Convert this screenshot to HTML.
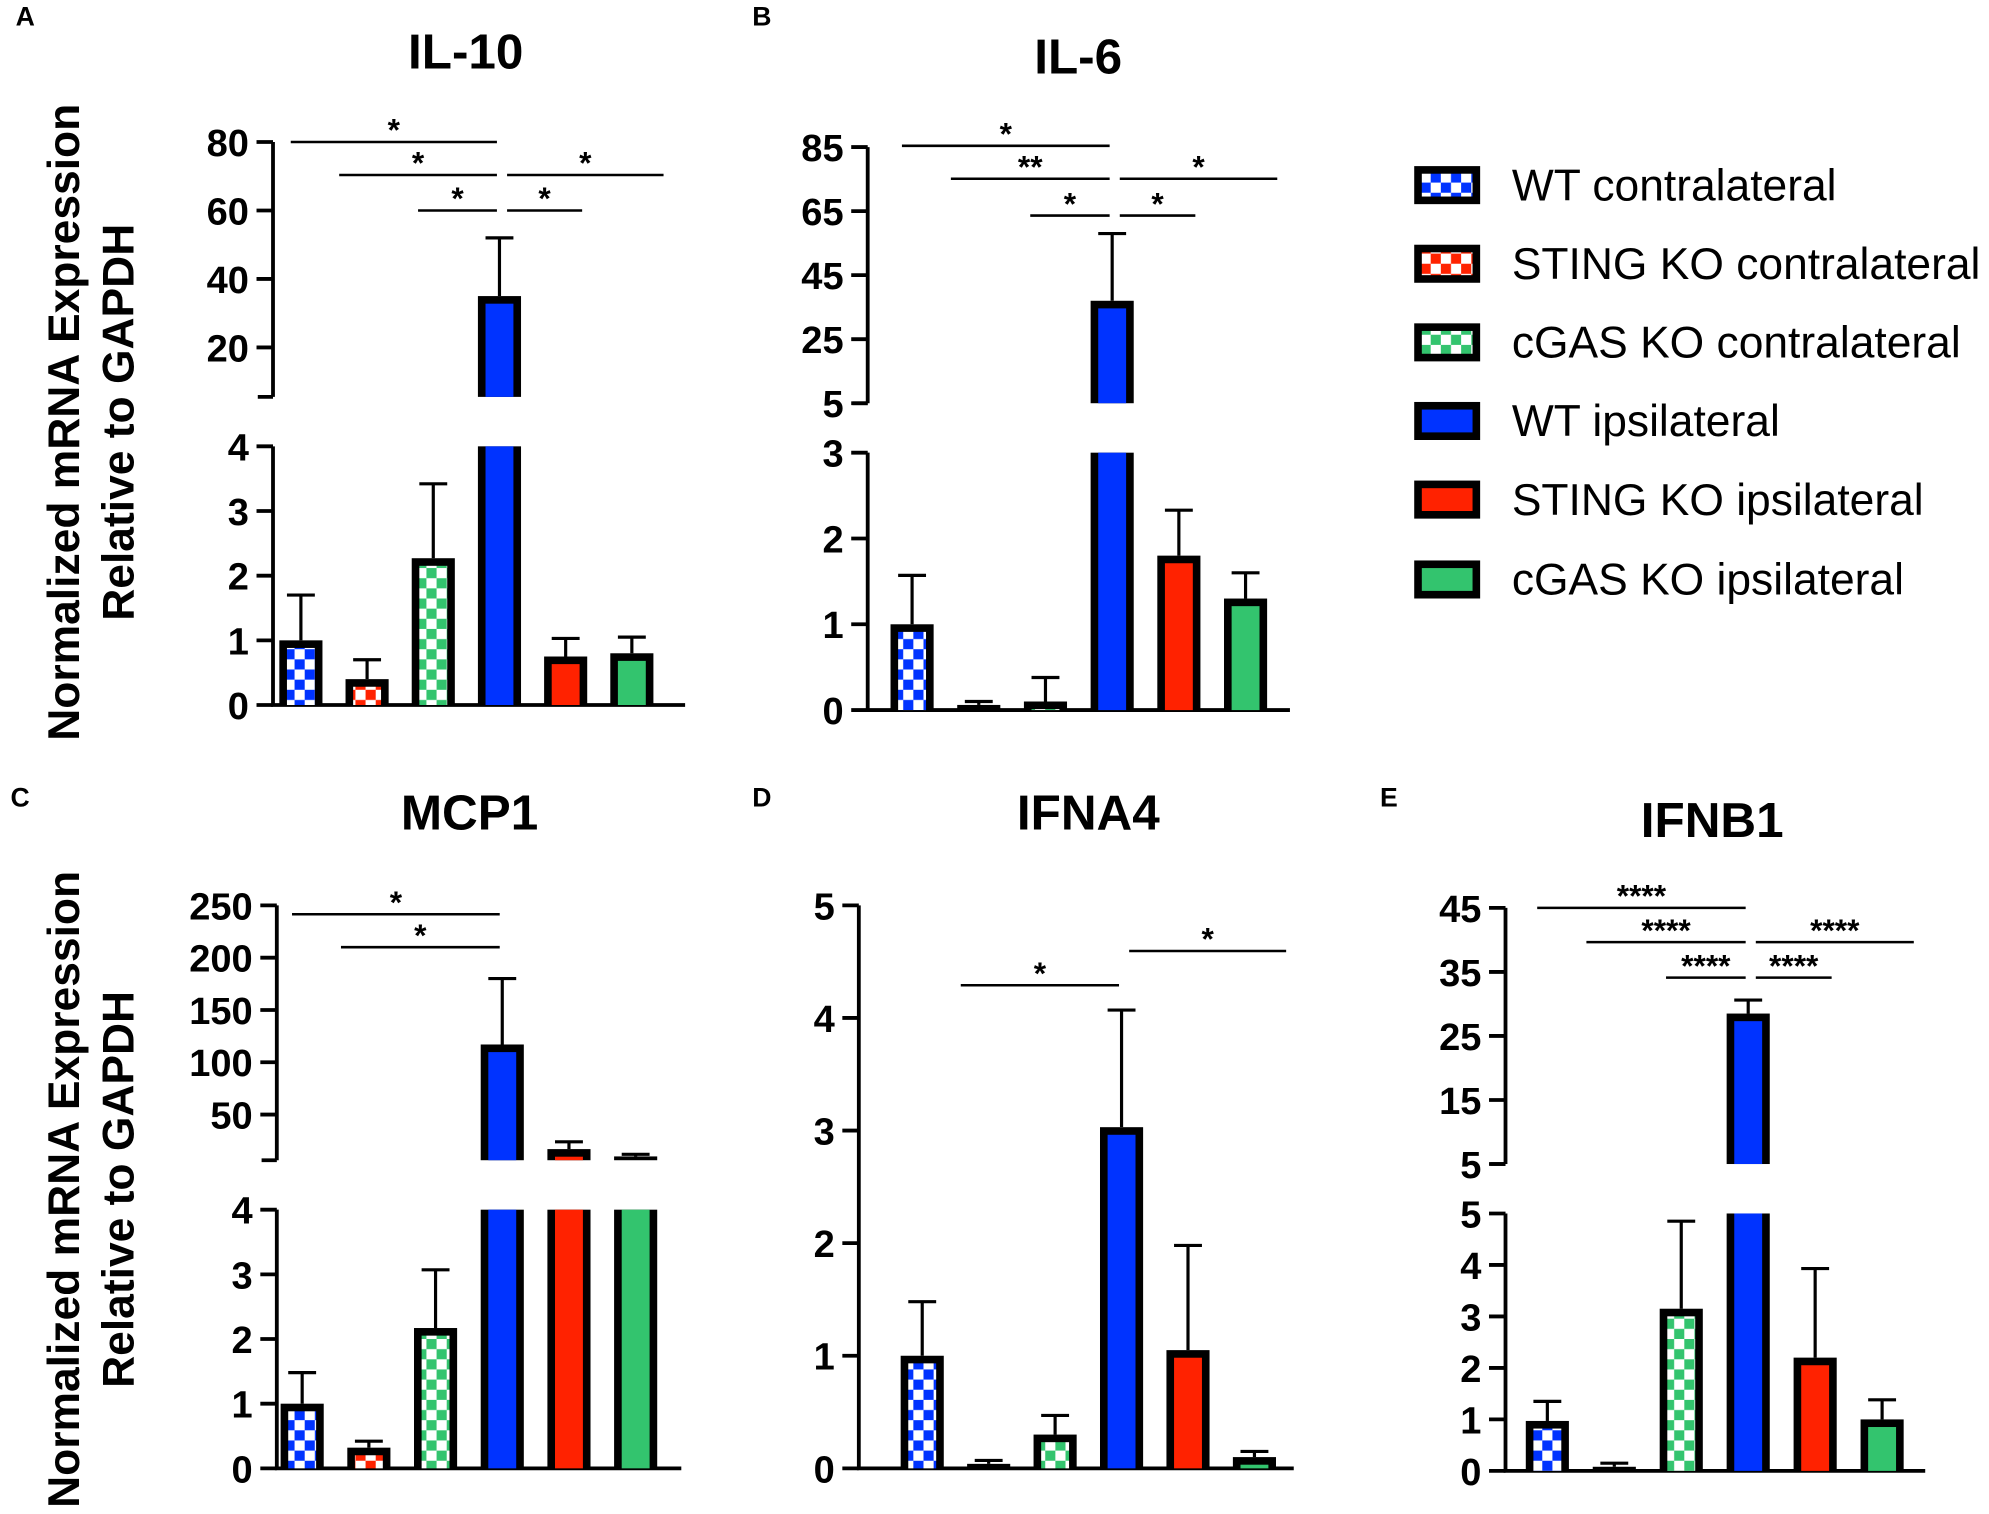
<!DOCTYPE html>
<html><head><meta charset="utf-8"><style>
html,body{margin:0;padding:0;background:#fff;}
svg{display:block;font-family:"Liberation Sans",Arial,sans-serif;}
</style></head><body>
<svg id="fig" width="1989" height="1514" viewBox="0 0 1568 1194" xmlns="http://www.w3.org/2000/svg">
<defs>
<pattern id="chkB" width="16" height="16" patternUnits="userSpaceOnUse"><rect width="16" height="16" fill="#fff"/><rect width="8" height="8" fill="#0033ff"/><rect x="8" y="8" width="8" height="8" fill="#0033ff"/></pattern>
<pattern id="chkR" width="16" height="16" patternUnits="userSpaceOnUse"><rect width="16" height="16" fill="#fff"/><rect width="8" height="8" fill="#ff2200"/><rect x="8" y="8" width="8" height="8" fill="#ff2200"/></pattern>
<pattern id="chkG" width="16" height="16" patternUnits="userSpaceOnUse"><rect width="16" height="16" fill="#fff"/><rect width="8" height="8" fill="#33c46e"/><rect x="8" y="8" width="8" height="8" fill="#33c46e"/></pattern>
</defs>
<g id="root"></g>
</svg>
<script>
const groups = ["WT contralateral","STING KO contralateral","cGAS KO contralateral","WT ipsilateral","STING KO ipsilateral","cGAS KO ipsilateral"];
const fills = ["url(#chkB)","url(#chkR)","url(#chkG)","#0033ff","#ff2200","#33c46e"];
const il10Values = [1.0, 0.4, 2.27, 35, 0.75, 0.8];
const il10Errors = [1.7, 0.7, 3.42, 52, 1.03, 1.05];
const il6Values = [1.0, 0.06, 0.1, 37, 1.8, 1.3];
const il6Errors = [1.57, 0.1, 0.38, 58, 2.33, 1.6];
const mcp1Values = [1.0, 0.32, 2.17, 117, 17, 10];
const mcp1Errors = [1.48, 0.42, 3.07, 180, 24, 12];
const ifna4Values = [1.0, 0.04, 0.3, 3.03, 1.05, 0.1];
const ifna4Errors = [1.48, 0.07, 0.47, 4.07, 1.98, 0.15];
const ifnb1Values = [0.97, 0.08, 3.15, 28.5, 2.2, 1.0];
const ifnb1Errors = [1.35, 0.15, 4.85, 30.6, 3.93, 1.38];
const il10LowTicks = [0,1,2,3,4], il10HighTicks = [20,40,60,80];
const il6LowTicks = [0,1,2,3], il6HighTicks = [5,25,45,65,85];
const mcp1LowTicks = [0,1,2,3,4], mcp1HighTicks = [50,100,150,200,250];
const ifna4Ticks = [0,1,2,3,4,5];
const ifnb1LowTicks = [0,1,2,3,4,5], ifnb1HighTicks = [5,15,25,35,45];
const il10Sig = [[0,3,"*"],[1,3,"*"],[3,5,"*"],[2,3,"*"],[3,4,"*"]];
const il6Sig = [[0,3,"*"],[1,3,"**"],[3,5,"*"],[2,3,"*"],[3,4,"*"]];
const mcp1Sig = [[0,3,"*"],[1,3,"*"]];
const ifna4Sig = [[1,3,"*"],[3,5,"*"]];
const ifnb1Sig = [[0,3,"****"],[1,3,"****"],[3,5,"****"],[2,3,"****"],[3,4,"****"]];
// bracket left-end pixel offsets by start group (style only)
const sigLeftOff = {0:-8,1:-22,2:-12};
const sigRightOff = {5:25,4:13};

const NS="http://www.w3.org/2000/svg";
const root=document.getElementById('root');
function el(tag,attrs,parent,text){const e=document.createElementNS(NS,tag);for(const k in attrs)e.setAttribute(k,attrs[k]);if(text!==undefined)e.textContent=text;(parent||root).appendChild(e);return e;}

function panel(p){
  const g=el('g',{});
  
  
  const t=el('text',{x:p.titleX,y:p.titleY,'font-size':39,'font-weight':'bold','text-anchor':'middle'},g,p.title);
  
  
  const L=el('text',{x:p.letter[0],y:p.letter[1],'font-size':21,'font-weight':'bold'},g,p.letterText);
  
  
  const lowY=v=>p.low.y0-(v-p.low.v0)*(p.low.y0-p.low.y1)/(p.low.v1-p.low.v0);
  const hiY=p.high?(v=>p.high.y0-(v-p.high.v0)*(p.high.y0-p.high.y1)/(p.high.v1-p.high.v0)):null;
  const xs=i=>p.x0+i*p.step;
  const ax=el('path',{d:`M${p.ax} ${p.low.top} V${p.low.y0} H${p.axEnd}`,stroke:'#000','stroke-width':3,fill:'none'},g);
  
  
  if(p.high){
    const ah=el('path',{d:`M${p.ax} ${p.high.top} V${p.high.bot} M${p.ax-12} ${p.high.bot} H${p.ax}`,stroke:'#000','stroke-width':3,fill:'none'},g);
    
    
  }
  const tickSets=[[p.lowTicks,lowY]];
  if(p.high) tickSets.push([p.highTicks,hiY]);
  tickSets.forEach(([ticks,f])=>ticks.forEach(v=>{
    const y=f(v);
    el('line',{x1:p.ax-13,x2:p.ax,y1:y,y2:y,stroke:'#000','stroke-width':3},g);
    const tl=el('text',{x:p.ax-19,y:y+11,'font-size':30,'font-weight':'bold','text-anchor':'end'},g,String(v));
    
    
  }));
  const W=34,B=6;
  p.values.forEach((v,i)=>{
    const cx=xs(i);
    const bg=el('g',{},g);
    
    
    const e=p.errors[i];
    if(p.high && v>p.lowMax){
      el('rect',{x:cx-W/2,y:p.low.top,width:W,height:p.low.y0-p.low.top,fill:'#000'},bg);
      el('rect',{x:cx-W/2+B,y:p.low.top,width:W-2*B,height:p.low.y0-p.low.top,fill:fills[i]},bg);
      const yT=hiY(v), eT=hiY(e);
      el('line',{x1:cx,x2:cx,y1:eT,y2:yT,stroke:'#000','stroke-width':2.5},bg);
      el('line',{x1:cx-11,x2:cx+11,y1:eT,y2:eT,stroke:'#000','stroke-width':2.5},bg);
      el('rect',{x:cx-W/2,y:yT,width:W,height:p.high.bot-yT,fill:'#000'},bg);
      el('rect',{x:cx-W/2+B,y:yT+B,width:W-2*B,height:Math.max(0,p.high.bot-yT-B),fill:fills[i]},bg);
    } else {
      const et=lowY(Math.min(e,p.lowMax));
      if(e>v){ el('line',{x1:cx,x2:cx,y1:et,y2:lowY(v),stroke:'#000','stroke-width':2.5},bg);
        el('line',{x1:cx-11,x2:cx+11,y1:et,y2:et,stroke:'#000','stroke-width':2.5},bg); }
      const yt=lowY(v);
      el('rect',{x:cx-W/2,y:yt,width:W,height:p.low.y0-yt,fill:'#000'},bg);
      el('rect',{x:cx-W/2+B,y:yt+B,width:W-2*B,height:Math.max(0,p.low.y0-yt-B),fill:fills[i]},bg);
    }
  });
  p.sig.forEach((s,k)=>{
    const y=p.sigY[k];
    let x1,x2;
    if(s[0]===3){x1=xs(3)+6;x2=xs(s[1])+sigRightOff[s[1]];}
    else {x1=xs(s[0])+sigLeftOff[s[0]];x2=xs(3)-2;}
    const sg=el('g',{},g);
    
    
    el('line',{x1:x1,x2:x2,y1:y,y2:y,stroke:'#000','stroke-width':2},sg);
    el('text',{x:(x1+x2)/2,y:y-1,'font-size':25,'font-weight':'bold','text-anchor':'middle'},sg,s[2]);
  });
}

panel({name:'panel-a-il10',title:'IL-10',titleX:367,titleY:54,letter:[12,20],letterText:'A',
  ax:215,axEnd:540,x0:237,step:52.2,values:il10Values,errors:il10Errors,lowMax:4,
  low:{v0:0,y0:556,v1:4,y1:352,top:352},lowTicks:il10LowTicks,
  high:{v0:20,y0:274,v1:80,y1:112,top:112,bot:313},highTicks:il10HighTicks,
  sig:il10Sig,sigY:[112,138,138,166,166]});
panel({name:'panel-b-il6',title:'IL-6',titleX:850,titleY:58,letter:[593,20],letterText:'B',
  ax:684,axEnd:1017,x0:719,step:52.6,values:il6Values,errors:il6Errors,lowMax:3,
  low:{v0:0,y0:560,v1:3,y1:357,top:357},lowTicks:il6LowTicks,
  high:{v0:5,y0:318,v1:85,y1:116,top:116,bot:318},highTicks:il6HighTicks,
  sig:il6Sig,sigY:[115,141,141,170,170]});
panel({name:'panel-c-mcp1',title:'MCP1',titleX:370,titleY:654,letter:[8,636],letterText:'C',
  ax:218,axEnd:537,x0:238,step:52.6,values:mcp1Values,errors:mcp1Errors,lowMax:4,
  low:{v0:0,y0:1158,v1:4,y1:954,top:954},lowTicks:mcp1LowTicks,
  high:{v0:50,y0:879,v1:250,y1:714,top:714,bot:915},highTicks:mcp1HighTicks,
  sig:mcp1Sig,sigY:[721,747]});
panel({name:'panel-d-ifna4',title:'IFNA4',titleX:858,titleY:654,letter:[593,636],letterText:'D',
  ax:677,axEnd:1020,x0:727,step:52.4,values:ifna4Values,errors:ifna4Errors,lowMax:99,
  low:{v0:0,y0:1158,v1:5,y1:714,top:714},lowTicks:ifna4Ticks,high:null,
  sig:ifna4Sig,sigY:[777,750]});
panel({name:'panel-e-ifnb1',title:'IFNB1',titleX:1350,titleY:660,letter:[1088,636],letterText:'E',
  ax:1187,axEnd:1518,x0:1220,step:52.8,values:ifnb1Values,errors:ifnb1Errors,lowMax:5,
  low:{v0:0,y0:1160,v1:5,y1:957,top:957},lowTicks:ifnb1LowTicks,
  high:{v0:5,y0:918,v1:45,y1:716,top:716,bot:918},highTicks:ifnb1HighTicks,
  sig:ifnb1Sig,sigY:[716,743,743,771,771]});

[[333],[938]].forEach(([cy])=>{
  const yt=el('g',{});
  
  
  el('text',{x:0,y:0,transform:`translate(62 ${cy}) rotate(-90)`,'font-size':35,'font-weight':'bold','text-anchor':'middle'},yt,'Normalized mRNA Expression');
  el('text',{x:0,y:0,transform:`translate(105 ${cy}) rotate(-90)`,'font-size':35,'font-weight':'bold','text-anchor':'middle'},yt,'Relative to GAPDH');
});

const legY=[146,208,270,332,394,457];
groups.forEach((n,i)=>{
  const lg=el('g',{});
  
  
  el('rect',{x:1115,y:legY[i]-15,width:52,height:30,fill:'#000'},lg);
  el('rect',{x:1121,y:legY[i]-9,width:40,height:18,fill:fills[i]},lg);
  el('text',{x:1192,y:legY[i]+12,'font-size':35},lg,n);
});
</script>
</body></html>
